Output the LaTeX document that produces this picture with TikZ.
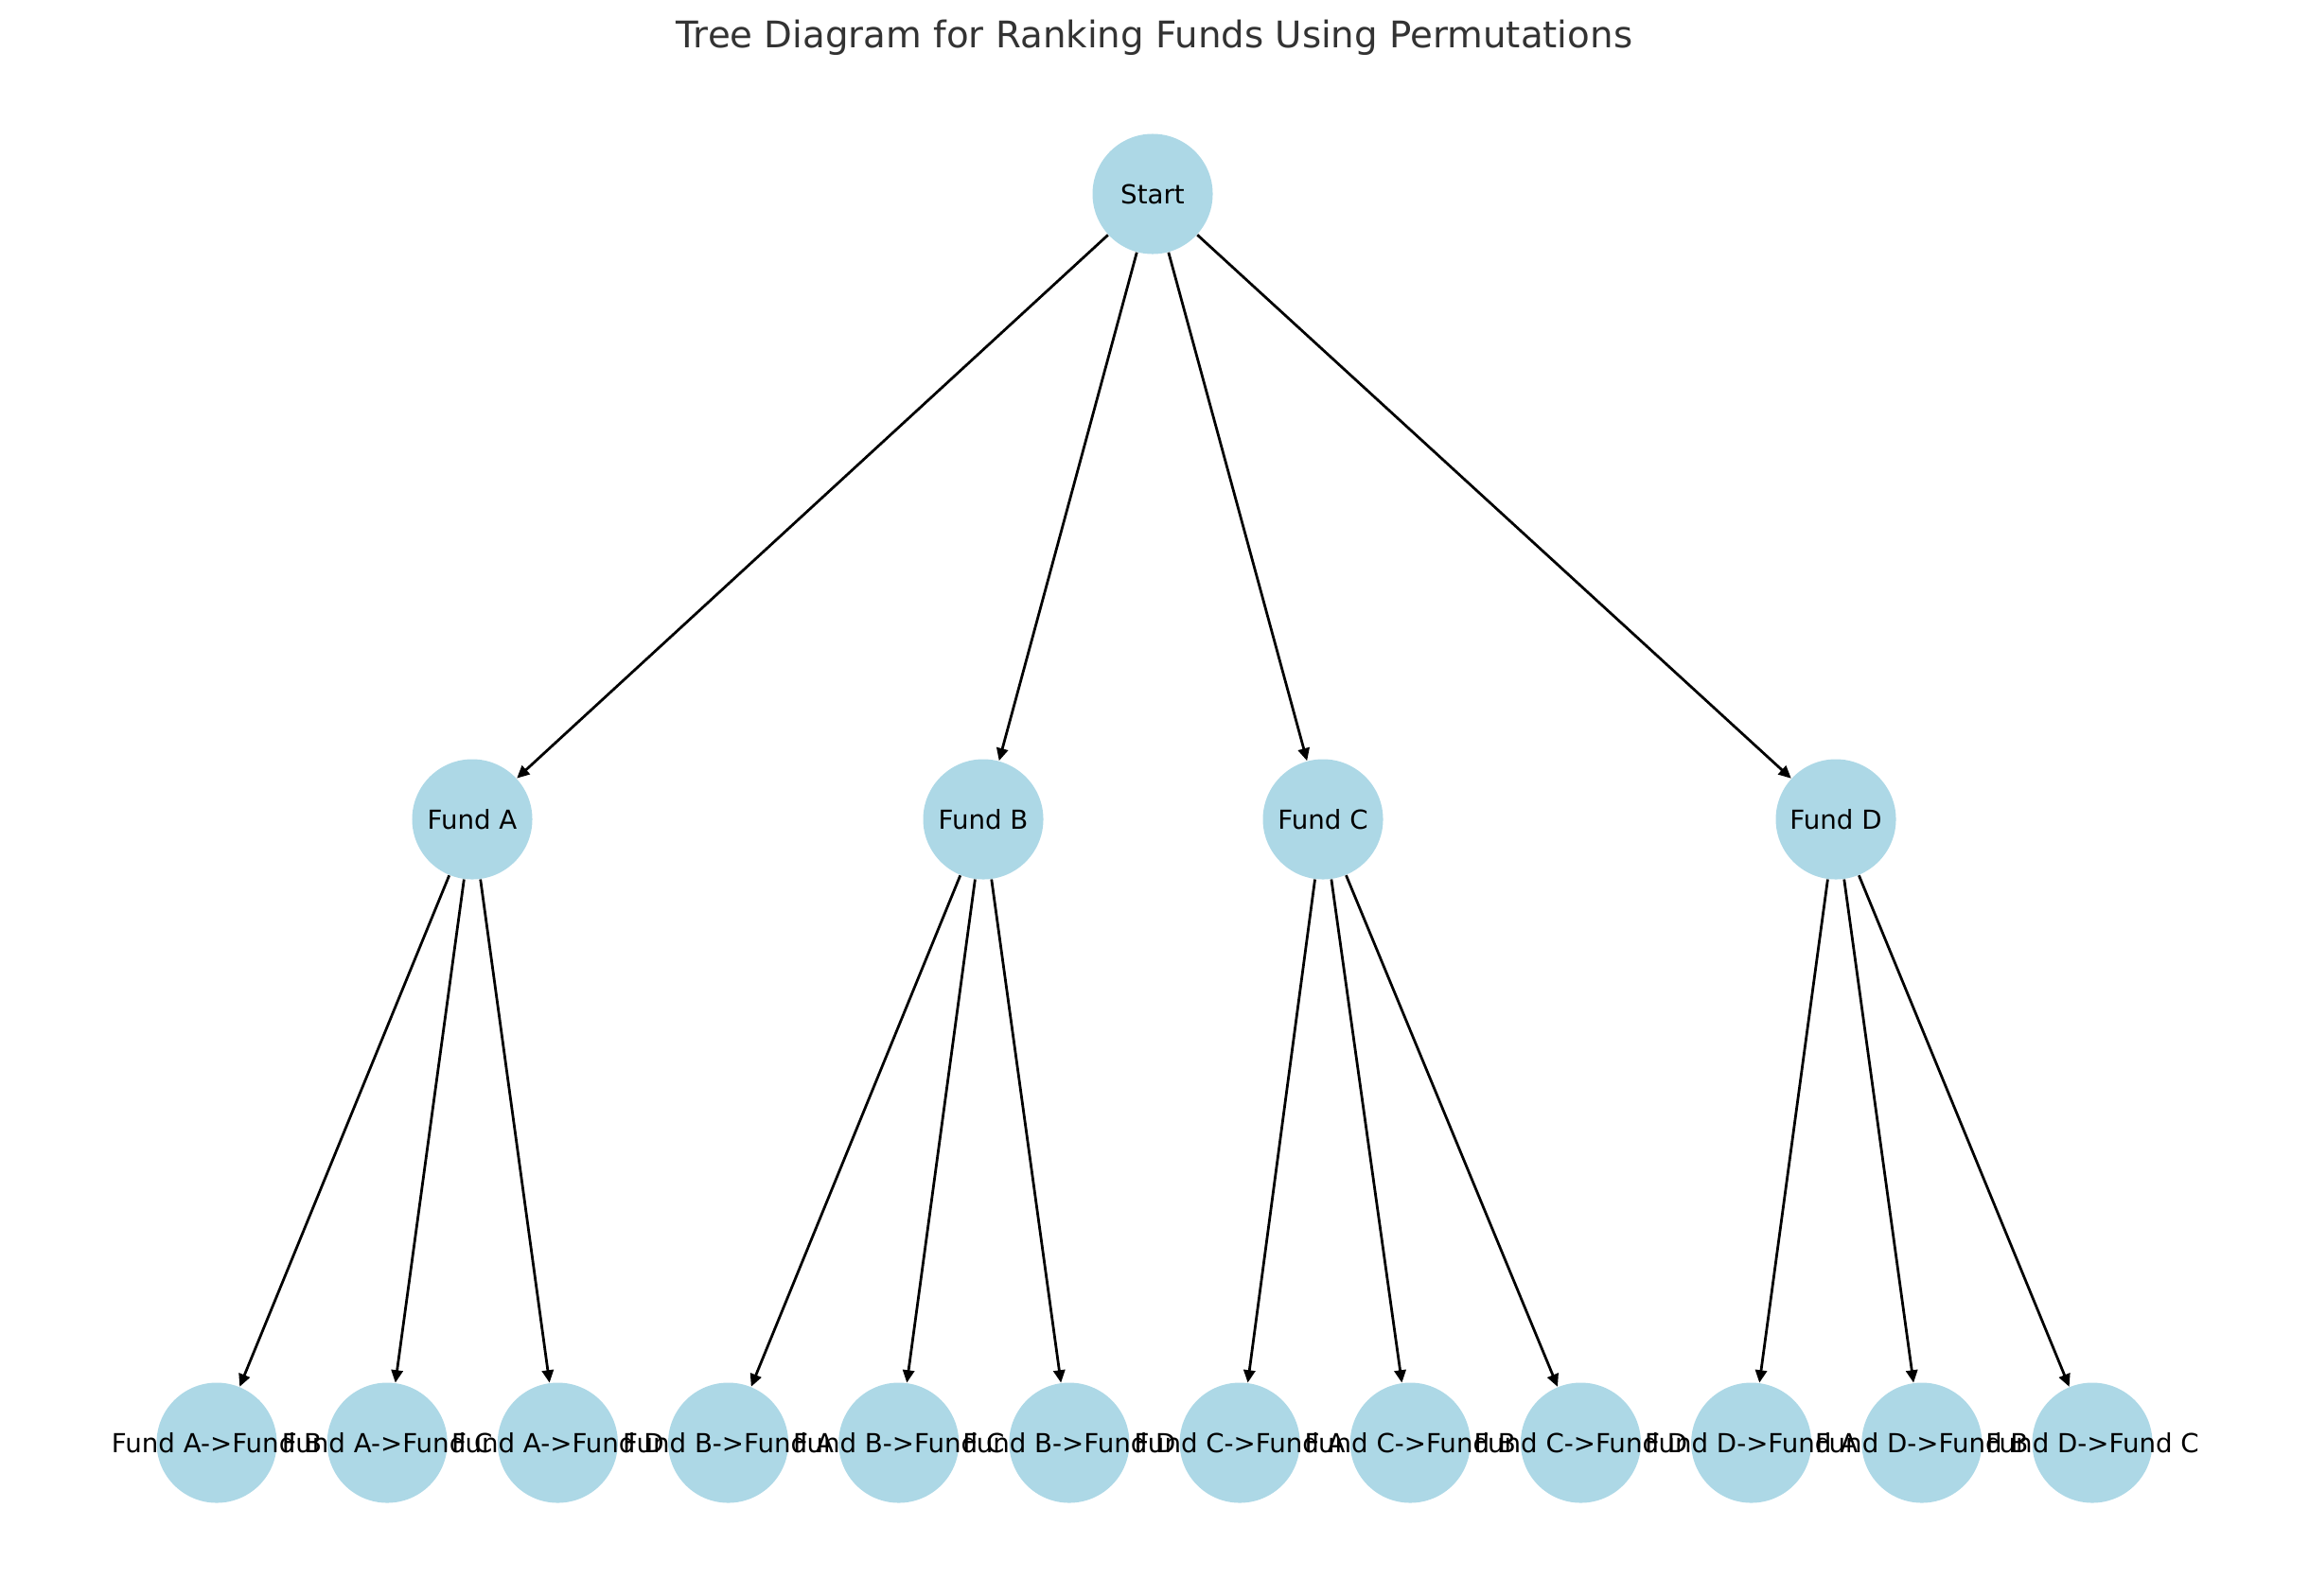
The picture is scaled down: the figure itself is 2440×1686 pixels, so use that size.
\documentclass[tikz,border=0pt]{standalone}
\usepackage{fontspec}
\setmainfont{DejaVu Sans}
\usetikzlibrary{arrows.meta}
\definecolor{nodeblue}{HTML}{ADD8E6}
\definecolor{titlegray}{HTML}{333333}
\begin{document}
\begin{tikzpicture}[x=0.36135pt,y=-0.36135pt,
  fundnode/.style={circle,fill=nodeblue,draw=none,minimum size=45.9pt,inner sep=0pt},
  lbl/.style={font=\fontsize{10}{12}\selectfont,text=black,inner sep=0pt},
  edge/.style={draw=black,line width=1pt,-{Triangle[length=4.8pt,width=4.4pt]}}]
\useasboundingbox (0,0) rectangle (2440,1686);
\node[font=\fontsize{14}{17}\selectfont,text=titlegray] (title) at (1220,40) {Tree Diagram for Ranking Funds Using Permutations};
% circles
\node[fundnode] (S) at (1218,205) {};
\node[fundnode] (A) at (499,866) {};
\node[fundnode] (B) at (1039,866) {};
\node[fundnode] (C) at (1398,866) {};
\node[fundnode] (D) at (1940,866) {};
\foreach \n/\i in {AB/0,AC/1,AD/2,BA/3,BC/4,BD/5,CA/6,CB/7,CD/8,DA/9,DB/10,DC/11}{
  \node[fundnode] (\n) at ({229+180.18*\i},1525) {};
}
% edges
\foreach \t in {A,B,C,D}{ \draw[edge] (S) -- (\t); }
\draw[edge] (A) -- (AB); \draw[edge] (A) -- (AC); \draw[edge] (A) -- (AD);
\draw[edge] (B) -- (BA); \draw[edge] (B) -- (BC); \draw[edge] (B) -- (BD);
\draw[edge] (C) -- (CA); \draw[edge] (C) -- (CB); \draw[edge] (C) -- (CD);
\draw[edge] (D) -- (DA); \draw[edge] (D) -- (DB); \draw[edge] (D) -- (DC);
% labels
\node[lbl] (lS) at (S.center) {Start};
\node[lbl] (lA) at (A.center) {Fund A};
\node[lbl] (lB) at (B.center) {Fund B};
\node[lbl] (lC) at (C.center) {Fund C};
\node[lbl] (lD) at (D.center) {Fund D};
\foreach \n/\a/\b in {AB/A/B,AC/A/C,AD/A/D,BA/B/A,BC/B/C,BD/B/D,CA/C/A,CB/C/B,CD/C/D,DA/D/A,DB/D/B,DC/D/C}{
  \node[lbl] (l\n) at (\n.center) {Fund \a->Fund \b};
}
\end{tikzpicture}
\end{document}
